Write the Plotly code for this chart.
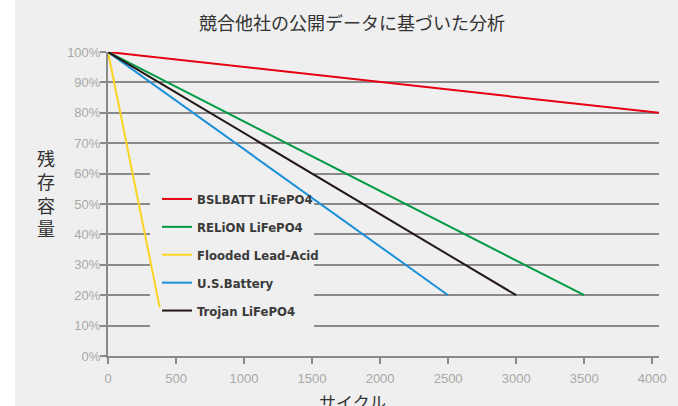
import plotly.graph_objects as go

# ---- data ----
series_names = ["BSLBATT LiFePO4", "RELiON LiFePO4", "Flooded Lead-Acid", "U.S.Battery", "Trojan LiFePO4"]
series_cycles = [
    [0, 4050],
    [0, 3500],
    [0, 380],
    [0, 2500],
    [0, 3000],
]
series_capacity = [
    [100, 80],
    [100, 20],
    [100, 16],
    [100, 20],
    [100, 20],
]
series_colors = ["#e60012", "#009944", "#f9d423", "#1b8fd9", "#231815"]
x_tickvals = [0, 500, 1000, 1500, 2000, 2500, 3000, 3500, 4000]
y_tickvals = [0, 10, 20, 30, 40, 50, 60, 70, 80, 90, 100]
y_ticktext = [f"{v}%" for v in y_tickvals]

title_text = "競合他社の公開データに基づいた分析"
y_title = "残存容量"
x_title = "サイクル"

# ---- layout constants ----
W, H = 678, 406
ML, MR, MT, MB = 108, 19, 52, 50
PW = W - ML - MR
PH = H - MT - MB
BG = "#eeefee"
GRID = "#8a8a8a"
XMAX = 4050


def px_x(p):
    return (p - ML) / PW


def px_y(p):
    return 1 - (p - MT) / PH


fig = go.Figure()
for i, name in enumerate(series_names):
    fig.add_trace(go.Scatter(
        x=series_cycles[i], y=series_capacity[i], mode="lines", name=name,
        line=dict(color=series_colors[i], width=2),
        legendgroup=f"g{i}",
    ))

fig.update_layout(
    width=W, height=H,
    margin=dict(l=ML, r=MR, t=MT, b=MB),
    paper_bgcolor=BG, plot_bgcolor=BG,
    title=dict(text=title_text, x=352 / W, xanchor="center", y=1 - 24 / H, yanchor="middle",
               font=dict(family="Noto Sans CJK JP", size=18, color="#333333")),
    showlegend=True,
    legend=dict(
        x=px_x(143), xanchor="left", y=px_y(170), yanchor="top",
        bgcolor="rgba(0,0,0,0)", borderwidth=14, bordercolor="rgba(0,0,0,0)",
        font=dict(family="DejaVu Sans Condensed, sans-serif", size=13,
                  color="#3a3a3a", weight="bold"),
        traceorder="grouped", tracegroupgap=8,
    ),
    xaxis=dict(
        range=[0, XMAX], tickvals=x_tickvals, showgrid=False, zeroline=False,
        showline=True, linecolor=GRID, linewidth=2,
        ticks="outside", ticklen=6, tickwidth=2, tickcolor=GRID, ticklabelstandoff=3,
        tickfont=dict(family="Liberation Sans, Arial, sans-serif", size=13, color="#a9a9a9"),
    ),
    yaxis=dict(
        range=[0, 100], tickvals=y_tickvals, ticktext=y_ticktext, showgrid=True,
        gridcolor=GRID, gridwidth=2, zeroline=False,
        showline=True, linecolor=GRID, linewidth=2,
        ticks="outside", ticklen=6, tickwidth=2, tickcolor=GRID, ticklabelstandoff=-3,
        tickfont=dict(family="Liberation Sans, Arial, sans-serif", size=13, color="#a9a9a9"),
    ),
    shapes=[
        dict(type="rect", xref="paper", yref="paper", x0=px_x(-5), x1=px_x(15),
             y0=-1, y1=2, fillcolor="white", line=dict(width=0), layer="below"),
        # legend backdrop: hides gridlines but stays under the data lines
        dict(type="rect", xref="x", yref="y",
             x0=(150 - ML) / PW * XMAX, x1=(314 - ML) / PW * XMAX,
             y0=(1 - (337 - MT) / PH) * 100, y1=(1 - (166 - MT) / PH) * 100,
             fillcolor=BG, line=dict(width=0), layer="between"),
    ],
    annotations=[
        dict(text="<br>".join(y_title), xref="paper", yref="paper", x=px_x(46), y=px_y(193),
             xanchor="center", yanchor="middle", showarrow=False,
             font=dict(family="Noto Sans CJK JP", size=18, color="#333333")),
        dict(text=x_title, xref="paper", yref="paper", x=px_x(352), y=px_y(401),
             xanchor="center", yanchor="middle", showarrow=False,
             font=dict(family="Noto Sans CJK JP", size=17, color="#333333")),
    ],
)

fig.write_html("out.html", config={"displayModeBar": False},
               post_script="document.body.style.margin='0';document.body.style.overflow='hidden';")
